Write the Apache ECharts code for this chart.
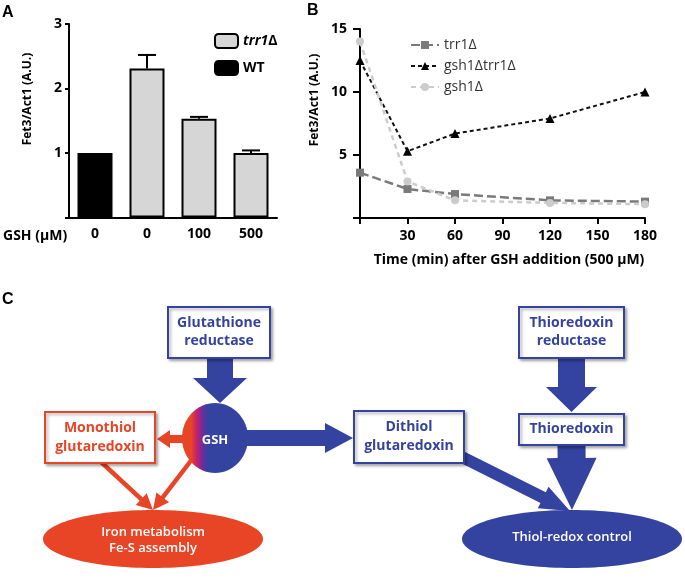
<!DOCTYPE html>
<html>
<head>
<meta charset="utf-8">
<script src="https://cdn.jsdelivr.net/npm/echarts@6/dist/echarts.min.js"></script>
<style>
html,body{margin:0;padding:0;background:#fff;}
#chart{width:685px;height:578px;}
</style>
</head>
<body>
<div id="chart"></div>
<script>
// ---------- Panel A data ----------
const gshLevels = ['0', '0', '100', '500'];          // GSH (µM)
const wtValues = [1.0, null, null, null];
const trr1Values = [null, 2.31, 1.53, 1.0];
const trr1ErrUpper = [null, 2.52, 1.56, 1.04];

// ---------- Panel B data ----------
const timeMin = [0, 30, 60, 120, 180];
const trr1Time = [3.6, 2.3, 1.9, 1.4, 1.3];
const gsh1trr1Time = [12.5, 5.3, 6.7, 7.9, 10.0];
const gsh1Time = [14.0, 2.9, 1.4, 1.2, 1.1];

const FONT = "'Open Sans', Lato, sans-serif";
const BLUE = '#3543a0';
const RED = '#e84526';

const chart = echarts.init(document.getElementById('chart'));

function pairs(xs, ys) { return xs.map((x, i) => [x, ys[i]]); }

function blockArrow(x1, y1, x2, y2, shaftW, headW, headL) {
  const dx = x2 - x1, dy = y2 - y1;
  const len = Math.sqrt(dx * dx + dy * dy);
  const ux = dx / len, uy = dy / len;
  const px = -uy, py = ux;
  const bx = x2 - ux * headL, by = y2 - uy * headL;
  const s = shaftW / 2, h = headW / 2;
  return [
    [x1 + px * s, y1 + py * s],
    [bx + px * s, by + py * s],
    [bx + px * h, by + py * h],
    [x2, y2],
    [bx - px * h, by - py * h],
    [bx - px * s, by - py * s],
    [x1 - px * s, y1 - py * s]
  ];
}

function arrow(x1, y1, x2, y2, sw, hw, hl, color) {
  return { type: 'polygon', shape: { points: blockArrow(x1, y1, x2, y2, sw, hw, hl) }, style: { fill: color } };
}

function box(x, y, w, h, color, text, lh) {
  return [
    { type: 'rect', shape: { x: x, y: y, width: w, height: h },
      style: { fill: '#fff', stroke: color, lineWidth: 2, shadowBlur: 3, shadowOffsetX: 2, shadowOffsetY: 2, shadowColor: 'rgba(0,0,0,0.3)' } },
    { type: 'text', x: x + w / 2, y: y + h / 2,
      style: { text: text, fill: color, font: 'bold 14px ' + FONT, align: 'center', verticalAlign: 'middle', lineHeight: lh || 19 } }
  ];
}

const gshGradient = new echarts.graphic.LinearGradient(0, 0, 1, 0, [
  { offset: 0, color: RED }, { offset: 0.14, color: RED },
  { offset: 0.22, color: '#c8206a' }, { offset: 0.3, color: '#7a2a9a' },
  { offset: 0.38, color: BLUE }, { offset: 1, color: BLUE }
]);

const diagram = [].concat(
  [
    arrow(220, 356, 220, 403, 26, 54, 25, BLUE),
    arrow(571.5, 356, 571.5, 412, 27, 51, 25, BLUE),
    arrow(571.5, 444, 572, 510, 28, 50, 52, BLUE),
    arrow(240, 438, 353, 438, 16, 30, 28, BLUE),
    arrow(452, 452, 570, 511, 12, 24, 30, BLUE),
    arrow(190, 439, 157, 439, 8, 18, 13, RED),
    arrow(100, 461, 153, 510, 4.5, 16, 16, RED),
    arrow(193, 458, 153, 510, 4.5, 16, 16, RED),
    { type: 'ellipse', shape: { cx: 215, cy: 438, rx: 33, ry: 35 }, style: { fill: gshGradient } },
    { type: 'text', x: 215, y: 440, style: { text: 'GSH', fill: '#fff', font: 'bold 13px ' + FONT, align: 'center', verticalAlign: 'middle' } },
    { type: 'ellipse', shape: { cx: 153, cy: 539, rx: 110, ry: 29 }, style: { fill: RED } },
    { type: 'text', x: 153, y: 540, style: { text: 'Iron metabolism\nFe-S assembly', fill: '#fff', font: '600 13px ' + FONT, align: 'center', verticalAlign: 'middle', lineHeight: 16 } },
    { type: 'ellipse', shape: { cx: 572, cy: 539, rx: 110, ry: 29 }, style: { fill: BLUE } },
    { type: 'text', x: 572, y: 537, style: { text: 'Thiol-redox control', fill: '#fff', font: '600 13px ' + FONT, align: 'center', verticalAlign: 'middle' } }
  ],
  box(168, 307, 102, 51, BLUE, 'Glutathione\nreductase', 18),
  box(519, 307, 105, 51, BLUE, 'Thioredoxin\nreductase', 18),
  box(519, 414, 105, 31, BLUE, 'Thioredoxin'),
  box(354, 411, 110, 52, BLUE, 'Dithiol\nglutaredoxin'),
  box(45, 412, 110, 51, RED, 'Monothiol\nglutaredoxin'),
  [
    // panel letters and axis titles
    { type: 'text', x: 2, y: 13, style: { text: 'A', fill: '#000', font: 'bold 16px Arial, "Liberation Sans", sans-serif', verticalAlign: 'middle' } },
    { type: 'text', x: 307, y: 11, style: { text: 'B', fill: '#000', font: 'bold 16px Arial, "Liberation Sans", sans-serif', verticalAlign: 'middle' } },
    { type: 'text', x: 2, y: 300, style: { text: 'C', fill: '#000', font: 'bold 16px Arial, "Liberation Sans", sans-serif', verticalAlign: 'middle' } },
    { type: 'text', x: 28, y: 99, rotation: Math.PI / 2, style: { text: 'Fet3/Act1 (A.U.)', fill: '#000', font: 'bold 12px ' + FONT, align: 'center', verticalAlign: 'middle' } },
    { type: 'text', x: 315, y: 100, rotation: Math.PI / 2, style: { text: 'Fet3/Act1 (A.U.)', fill: '#000', font: 'bold 12px ' + FONT, align: 'center', verticalAlign: 'middle' } },
    { type: 'text', x: 3, y: 236, style: { text: 'GSH (µM)', fill: '#000', font: 'bold 14px ' + FONT, verticalAlign: 'middle' } },
    { type: 'text', x: 509, y: 260, style: { text: 'Time (min) after GSH addition (500 µM)', fill: '#000', font: 'bold 14px ' + FONT, align: 'center', verticalAlign: 'middle' } }
  ]
);

const axisLineStyle = { color: '#000', width: 2 };
const tickLabel = { color: '#000', fontWeight: 'bold', fontSize: 14, fontFamily: FONT };

const errData = [];
trr1ErrUpper.forEach((v, i) => { if (v != null) errData.push([i, v, trr1Values[i]]); });

const option = {
  animation: false,
  backgroundColor: '#fff',
  grid: [
    { left: 69, top: 24, width: 208, height: 193.5 },
    { left: 360, top: 29, width: 285, height: 189 }
  ],
  legend: [
    { orient: 'vertical', left: 209, top: 28, itemWidth: 23, itemHeight: 14, itemGap: 11,
      data: ['trr1Δ', 'WT'],
      formatter: n => n === 'trr1Δ' ? '{i|trr1}Δ' : n,
      textStyle: { color: '#000', fontWeight: 'bold', fontSize: 14, fontFamily: FONT,
        rich: { i: { fontStyle: 'italic', fontWeight: 'bold', fontSize: 14, fontFamily: FONT, color: '#000' } } } },
    { orient: 'vertical', left: 405, top: 33, itemWidth: 28, itemHeight: 10, itemGap: 7,
      data: ['trr1Δ ', 'gsh1Δtrr1Δ', 'gsh1Δ'],
      textStyle: { color: '#333', fontSize: 14, fontFamily: FONT } }
  ],
  xAxis: [
    { gridIndex: 0, type: 'category', data: gshLevels,
      axisLine: { lineStyle: axisLineStyle },
      axisTick: { alignWithLabel: true, length: 5, lineStyle: { width: 2, color: '#000' } },
      axisLabel: Object.assign({ margin: 10 }, tickLabel) },
    { gridIndex: 1, type: 'value', min: 0, max: 180, interval: 30,
      splitLine: { show: false },
      axisLine: { lineStyle: axisLineStyle },
      axisTick: { length: 6, lineStyle: { width: 2, color: '#000' } },
      axisLabel: Object.assign({ margin: 11, formatter: v => v === 0 ? '' : v }, tickLabel) }
  ],
  yAxis: [
    { gridIndex: 0, type: 'value', min: 0, max: 3, interval: 1,
      splitLine: { show: false },
      axisLine: { show: true, lineStyle: axisLineStyle },
      axisTick: { show: true, length: 4, lineStyle: { width: 2, color: '#000' } },
      axisLabel: Object.assign({ margin: 7, formatter: v => v === 0 ? '' : v }, tickLabel) },
    { gridIndex: 1, type: 'value', min: 0, max: 15, interval: 5,
      splitLine: { show: false },
      axisLine: { show: true, lineStyle: axisLineStyle },
      axisTick: { show: true, length: 7, lineStyle: { width: 2, color: '#000' } },
      axisLabel: Object.assign({ margin: 13, formatter: v => v === 0 ? '' : v }, tickLabel) }
  ],
  series: [
    { name: 'WT', type: 'bar', xAxisIndex: 0, yAxisIndex: 0, data: wtValues, barWidth: 35, barGap: '-100%',
      itemStyle: { color: '#000', borderColor: '#000', borderWidth: 2 } },
    { name: 'trr1Δ', type: 'bar', xAxisIndex: 0, yAxisIndex: 0, data: trr1Values, barWidth: 35, barGap: '-100%',
      itemStyle: { color: '#d6d6d6', borderColor: '#000', borderWidth: 2 } },
    { name: 'err', type: 'custom', xAxisIndex: 0, yAxisIndex: 0, data: errData, z: 5,
      renderItem: (params, api) => {
        const top = api.coord([api.value(0), api.value(1)]);
        const base = api.coord([api.value(0), api.value(2)]);
        const w = 9;
        return { type: 'group', children: [
          { type: 'line', shape: { x1: top[0], y1: top[1], x2: base[0], y2: base[1] }, style: { stroke: '#000', lineWidth: 2 } },
          { type: 'line', shape: { x1: top[0] - w, y1: top[1], x2: top[0] + w, y2: top[1] }, style: { stroke: '#000', lineWidth: 2 } }
        ] };
      } },
    { name: 'trr1Δ ', type: 'line', xAxisIndex: 1, yAxisIndex: 1, data: pairs(timeMin, trr1Time),
      symbol: 'rect', symbolSize: 8,
      lineStyle: { color: '#7a7a7a', width: 2.5, type: [9, 4] },
      itemStyle: { color: '#7a7a7a' } },
    { name: 'gsh1Δtrr1Δ', type: 'line', xAxisIndex: 1, yAxisIndex: 1, data: pairs(timeMin, gsh1trr1Time),
      symbol: 'triangle', symbolSize: 9,
      lineStyle: { color: '#111', width: 2, type: [4, 3] },
      itemStyle: { color: '#000' } },
    { name: 'gsh1Δ', type: 'line', xAxisIndex: 1, yAxisIndex: 1, data: pairs(timeMin, gsh1Time),
      symbol: 'circle', symbolSize: 8,
      lineStyle: { color: '#cccccc', width: 2.5, type: [5, 4] },
      itemStyle: { color: '#cccccc' } }
  ],
  graphic: diagram
};

chart.setOption(option);
</script>
</body>
</html>
